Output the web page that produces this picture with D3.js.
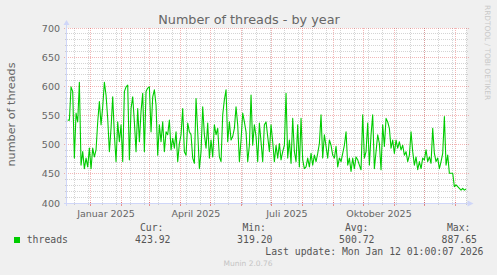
<!DOCTYPE html>
<html>
<head>
<meta charset="utf-8">
<script src="https://cdn.jsdelivr.net/npm/d3@7"></script>
<style>
  html, body { margin: 0; padding: 0; background: #f0f0f0; }
  svg { display: block; }
</style>
</head>
<body>
<div id="chart"></div>
<script>
const width = 497;
const height = 275;
const plotLeft = 66.5;
const plotRight = 466.5;
const plotTop = 28;
const plotBottom = 203;

// time window of the yearly graph (400 days up to last update)
const rangeStart = new Date("2024-12-08T01:00:07Z");
const rangeEnd = new Date("2026-01-12T01:00:07Z");

// samples, one every 40 hours
const sampleStart = new Date("2024-12-09T06:00:00Z");
const sampleStepHours = 40;
const threads = [
  542, 542, 599, 591, 477, 554, 539, 607, 465, 488,
  459, 477, 462, 494, 459, 494, 479, 491, 539, 574,
  534, 565, 607, 585, 545, 488, 528, 582, 517, 471,
  539, 505, 534, 471, 591, 599, 602, 474, 562, 582,
  539, 488, 562, 505, 557, 588, 488, 591, 597, 599,
  522, 582, 594, 568, 482, 534, 505, 539, 488, 522,
  517, 542, 491, 511, 494, 522, 471, 502, 517, 562,
  488, 482, 537, 522,
  517, 477, 468, 579, 522, 459, 488, 565, 517, 494,
  537, 477, 508, 479, 534, 517, 528, 479, 471, 551,
  577, 594, 505, 539, 508, 514, 528, 565, 534, 471,
  508, 554, 539, 522, 471, 499, 585, 499, 534, 514,
  471, 537, 505, 471, 534, 539, 514, 488, 534, 505,
  471, 499, 477, 502, 474, 488, 499, 588, 477, 508,
  468, 545, 488, 471, 534, 462, 545, 474, 459, 462,
  477, 462, 485, 465, 482, 471, 485, 502,
  551, 477, 517, 497, 477, 508, 499, 482, 477, 497,
  462, 477, 471, 485, 499, 522, 465, 477, 454, 477,
  459, 479, 474, 465, 457, 551, 477, 488, 537, 465,
  517, 551, 459, 488, 517, 502, 457, 534, 497, 545,
  539, 528, 494, 508, 485, 508, 494, 505, 491, 499,
  482, 488, 471, 482, 522, 488, 465, 479, 457, 471,
  459, 477, 474, 491, 471, 479, 468, 528, 485, 471,
  477, 459, 471, 485, 548, 465, 482, 451, 451, 451,
  428, 431, 428, 425, 422, 425, 422, 424
];

const yTicks = [400, 450, 500, 550, 600, 650, 700];
const quarterStarts = ["2025-01-01", "2025-04-01", "2025-07-01", "2025-10-01"];
const quarterLabels = ["Januar 2025", "April 2025", "Juli 2025", "Oktober 2025"];
const legendHeads = ["Cur:", "Min:", "Avg:", "Max:"];
const legendValues = ["423.92", "319.20", "500.72", "887.65"];
// right edges of the legend columns
const legendHeadEnd = [163.5, 266, 368.5, 470.5];
const legendValueEnd = [170.5, 272.5, 374.5, 477];

const lineColor = "#00cc00";
const axisColor = "#cfd6f8";
const textColor = "#666666";

const series = threads.map((v, i) => ({
  t: d3.utcHour.offset(sampleStart, i * sampleStepHours),
  v: v
}));

const xScale = d3.scaleUtc()
  .domain([rangeStart, rangeEnd])
  .range([plotLeft, plotRight]);

const yScale = d3.scaleLinear()
  .domain([400, 700])
  .range([plotBottom, plotTop]);

const crisp = (p) => Math.round(p - 0.5) + 0.5;

const svg = d3.create("svg")
  .attr("width", width)
  .attr("height", height)
  .attr("viewBox", [0, 0, width, height]);

svg.append("rect")
  .attr("width", width).attr("height", height)
  .attr("fill", "#f0f0f0");

svg.append("rect")
  .attr("x", plotLeft).attr("y", plotTop)
  .attr("width", plotRight - plotLeft).attr("height", plotBottom - plotTop)
  .attr("fill", "#ffffff");

// minor grid
const minorX = d3.utcDay.range(new Date("2024-12-02T00:00:00Z"), rangeEnd, 14)
  .filter((d) => d >= rangeStart);
const minorY = d3.range(410, 700, 10).filter((v) => v % 50 !== 0);
const majorX = d3.utcMonth.range(rangeStart, rangeEnd);

const minorStroke = "#8f8f8f";
const minorOpacity = 0.38;
const majorStroke = "#de3030";
const majorOpacity = 0.35;

const grid = svg.append("g").attr("shape-rendering", "crispEdges");

grid.selectAll(".minx")
  .data(minorX)
  .join("line")
  .attr("x1", (d) => crisp(xScale(d))).attr("x2", (d) => crisp(xScale(d)))
  .attr("y1", plotTop).attr("y2", plotBottom)
  .attr("stroke", minorStroke).attr("stroke-opacity", minorOpacity)
  .attr("stroke-dasharray", "1,1");

grid.selectAll(".minxtick")
  .data(minorX)
  .join("line")
  .attr("x1", (d) => crisp(xScale(d))).attr("x2", (d) => crisp(xScale(d)))
  .attr("y1", plotBottom).attr("y2", plotBottom + 2)
  .attr("stroke", minorStroke).attr("stroke-opacity", minorOpacity);

grid.selectAll(".miny")
  .data(minorY)
  .join("line")
  .attr("x1", plotLeft).attr("x2", plotRight + 2)
  .attr("y1", (d) => crisp(yScale(d))).attr("y2", (d) => crisp(yScale(d)))
  .attr("stroke", minorStroke).attr("stroke-opacity", minorOpacity)
  .attr("stroke-dasharray", "1,1");

grid.selectAll(".minytick")
  .data(minorY)
  .join("line")
  .attr("x1", plotLeft - 2).attr("x2", plotLeft)
  .attr("y1", (d) => crisp(yScale(d))).attr("y2", (d) => crisp(yScale(d)))
  .attr("stroke", minorStroke).attr("stroke-opacity", minorOpacity);

// major grid
grid.selectAll(".majx")
  .data(majorX)
  .join("line")
  .attr("x1", (d) => crisp(xScale(d))).attr("x2", (d) => crisp(xScale(d)))
  .attr("y1", plotTop).attr("y2", plotBottom)
  .attr("stroke", majorStroke).attr("stroke-opacity", majorOpacity)
  .attr("stroke-dasharray", "1,1");

grid.selectAll(".majxtick")
  .data(majorX)
  .join("line")
  .attr("x1", (d) => crisp(xScale(d))).attr("x2", (d) => crisp(xScale(d)))
  .attr("y1", plotBottom - 1).attr("y2", plotBottom + 3)
  .attr("stroke", majorStroke).attr("stroke-opacity", 0.5);

grid.selectAll(".majy")
  .data(yTicks)
  .join("line")
  .attr("x1", plotLeft - 3).attr("x2", plotRight + 2)
  .attr("y1", (d) => crisp(yScale(d))).attr("y2", (d) => crisp(yScale(d)))
  .attr("stroke", majorStroke).attr("stroke-opacity", majorOpacity)
  .attr("stroke-dasharray", "1,1");

// the data line
const line = d3.line()
  .x((p) => xScale(p.t))
  .y((p) => yScale(p.v));

svg.append("path")
  .attr("fill", "none")
  .attr("stroke", lineColor)
  .attr("stroke-width", 1.1)
  .attr("stroke-linejoin", "round")
  .attr("d", line(series));

// axes with arrows
const axes = svg.append("g").attr("fill", axisColor).attr("stroke", axisColor);
axes.append("line")
  .attr("x1", plotLeft - 3).attr("x2", plotRight + 2)
  .attr("y1", crisp(plotBottom)).attr("y2", crisp(plotBottom))
  .attr("shape-rendering", "crispEdges");
axes.append("line")
  .attr("x1", plotLeft).attr("x2", plotLeft)
  .attr("y1", plotBottom + 3).attr("y2", plotTop - 4)
  .attr("shape-rendering", "crispEdges");
axes.append("path")
  .attr("stroke", "none")
  .attr("d", `M${plotRight + 1},${plotBottom + 0.5 - 3}L${plotRight + 7},${plotBottom + 0.5}L${plotRight + 1},${plotBottom + 0.5 + 3}Z`);
axes.append("path")
  .attr("stroke", "none")
  .attr("d", `M${plotLeft - 3},${plotTop - 3}L${plotLeft},${plotTop - 8}L${plotLeft + 3},${plotTop - 3}Z`);

// y tick labels
svg.append("g")
  .selectAll("text")
  .data(yTicks)
  .join("text")
  .attr("x", 60)
  .attr("y", (d) => yScale(d) + 3.5)
  .attr("text-anchor", "end")
  .attr("font-family", "DejaVu Sans")
  .attr("font-size", 9.5)
  .attr("fill", textColor)
  .text((d) => d);

// x labels, centred half a month after the quarter start
svg.append("g")
  .selectAll("text")
  .data(quarterStarts)
  .join("text")
  .attr("x", (d) => xScale(d3.utcHour.offset(new Date(d + "T00:00:00Z"), 15 * 24 + 12)))
  .attr("y", 216.5)
  .attr("text-anchor", "middle")
  .attr("font-family", "DejaVu Sans")
  .attr("font-size", 9.5)
  .attr("fill", textColor)
  .text((d, i) => quarterLabels[i]);

// title
svg.append("text")
  .attr("x", 249)
  .attr("y", 24)
  .attr("text-anchor", "middle")
  .attr("font-family", "DejaVu Sans")
  .attr("font-size", 12.8)
  .attr("fill", textColor)
  .text("Number of threads - by year");

// vertical label
svg.append("text")
  .attr("transform", "translate(15,114.5) rotate(-90)")
  .attr("text-anchor", "middle")
  .attr("font-family", "DejaVu Sans")
  .attr("font-size", 11.2)
  .attr("fill", textColor)
  .text("number of threads");

svg.append("text")
  .attr("transform", "translate(485,5) rotate(90)")
  .attr("font-family", "DejaVu Sans")
  .attr("font-size", 7.4)
  .attr("fill", "#c8c8c8")
  .text("RRDTOOL / TOBI OETIKER");

// legend
const legend = svg.append("g")
  .attr("font-family", "DejaVu Sans Mono")
  .attr("font-size", 9.8)
  .attr("fill", "#555555");

legend.selectAll(".head")
  .data(legendHeads)
  .join("text")
  .attr("x", (d, i) => legendHeadEnd[i])
  .attr("y", 231)
  .attr("text-anchor", "end")
  .text((d) => d);

legend.append("rect")
  .attr("x", 14).attr("y", 237)
  .attr("width", 6).attr("height", 6)
  .attr("fill", lineColor);

legend.append("text")
  .attr("x", 26.7).attr("y", 243)
  .text("threads");

legend.selectAll(".val")
  .data(legendValues)
  .join("text")
  .attr("x", (d, i) => legendValueEnd[i])
  .attr("y", 243)
  .attr("text-anchor", "end")
  .text((d) => d);

legend.append("text")
  .attr("x", 483.5).attr("y", 255)
  .attr("text-anchor", "end")
  .text("Last update: Mon Jan 12 01:00:07 2026");

svg.append("text")
  .attr("x", 248)
  .attr("y", 266)
  .attr("text-anchor", "middle")
  .attr("font-family", "DejaVu Sans")
  .attr("font-size", 7.5)
  .attr("fill", "#c4c4c4")
  .text("Munin 2.0.76");

document.getElementById("chart").append(svg.node());
</script>
</body>
</html>
